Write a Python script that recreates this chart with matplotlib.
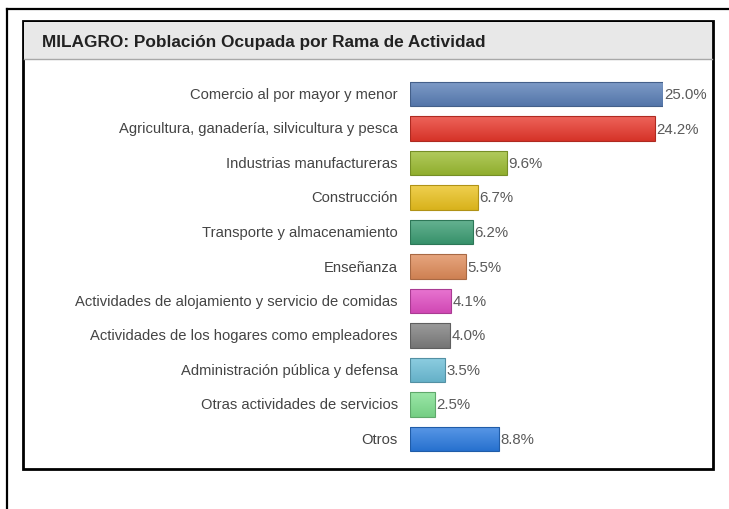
import matplotlib
matplotlib.use("Agg")
import matplotlib.pyplot as plt
import numpy as np
from matplotlib.patches import Rectangle
from matplotlib.lines import Line2D
from matplotlib.colors import to_rgb

categories = [
    "Comercio al por mayor y menor",
    "Agricultura, ganadería, silvicultura y pesca",
    "Industrias manufactureras",
    "Construcción",
    "Transporte y almacenamiento",
    "Enseñanza",
    "Actividades de alojamiento y servicio de comidas",
    "Actividades de los hogares como empleadores",
    "Administración pública y defensa",
    "Otras actividades de servicios",
    "Otros",
]
values = [25.0, 24.2, 9.6, 6.7, 6.2, 5.5, 4.1, 4.0, 3.5, 2.5, 8.8]
colors = ["#5b80b8", "#e8382c", "#9dbd32", "#ebc21e", "#3c9e74", "#e08c5a",
          "#e24fc4", "#7f7f7f", "#6ec0d9", "#7fe08f", "#2b7be0"]
title = "MILAGRO: Población Ocupada por Rama de Actividad"

W, H = 729, 510
fig = plt.figure(figsize=(W / 100, H / 100), dpi=100)
fig.patch.set_facecolor("white")

def fx(px):
    return px / W

def fy(py):
    return 1 - py / H

# outer frame lines (top and left)
fig.add_artist(Line2D([fx(7), fx(729)], [fy(10), fy(10)], color="black", lw=1.6))
fig.add_artist(Line2D([fx(7), fx(7)], [fy(10), fy(510)], color="black", lw=1.6))

# inner panel
fig.add_artist(Rectangle((fx(23), fy(470)), fx(713) - fx(23), fy(22) - fy(470),
                         facecolor="white", edgecolor="black", lw=2.0,
                         transform=fig.transFigure, zorder=0))
# title bar
fig.add_artist(Rectangle((fx(24), fy(60)), fx(712) - fx(24), fy(23) - fy(60),
                         facecolor="#e8e8e8", edgecolor="none",
                         transform=fig.transFigure, zorder=1))
fig.add_artist(Line2D([fx(24), fx(712)], [fy(60), fy(60)], color="#a8a8a8", lw=1.0, zorder=2))
fig.text(fx(42), fy(42), title, fontsize=12.4, fontweight="bold", color="#222222",
         family="Liberation Sans", va="center", ha="left", zorder=3)

# bar axes
top_c, bot_c = 95, 440
step = (bot_c - top_c) / (len(values) - 1)
ax_top = top_c - step / 2
ax_bot = bot_c + step / 2
ax = fig.add_axes([fx(410), fy(ax_bot), fx(663) - fx(410), fy(ax_top) - fy(ax_bot)])
ax.set_xlim(0, 25)
ax.set_ylim(len(values) - 0.5, -0.5)
ax.axis("off")
ys = list(range(len(values)))
bh = 0.7


def shade(c, f):
    r = np.array(to_rgb(c))
    if f >= 0:
        return r + (1 - r) * f
    return r * (1 + f)


bars = ax.barh(ys, values, height=bh, color=colors, linewidth=0)
for y, v, c, b in zip(ys, values, colors, bars):
    t = np.linspace(0, 1, 32)[:, None]
    top = shade(c, 0.22)
    bot = shade(c, -0.08)
    grad = (top[None, None, :] * (1 - t[..., None]) + bot[None, None, :] * t[..., None])
    im = ax.imshow(grad, extent=[0, v, y + bh / 2, y - bh / 2], aspect="auto",
                   interpolation="bilinear", zorder=2)
    im.set_clip_path(b)
    ax.add_patch(Rectangle((0, y - bh / 2), v, bh, facecolor="none",
                           edgecolor=shade(c, -0.25), lw=0.8, zorder=3))
    ax.text(v + 0.12, y, f"{v:.1f}%", va="center", ha="left", fontsize=10.8,
            color="#5a5a5a", family="Liberation Sans", clip_on=False)
    ax.text(-1.2, y, categories[y], va="center", ha="right", fontsize=10.6,
            color="#444444", family="Liberation Sans", clip_on=False)
ax.set_xlim(0, 25)
ax.set_ylim(len(values) - 0.5, -0.5)

fig.savefig("out.png", dpi=100)
